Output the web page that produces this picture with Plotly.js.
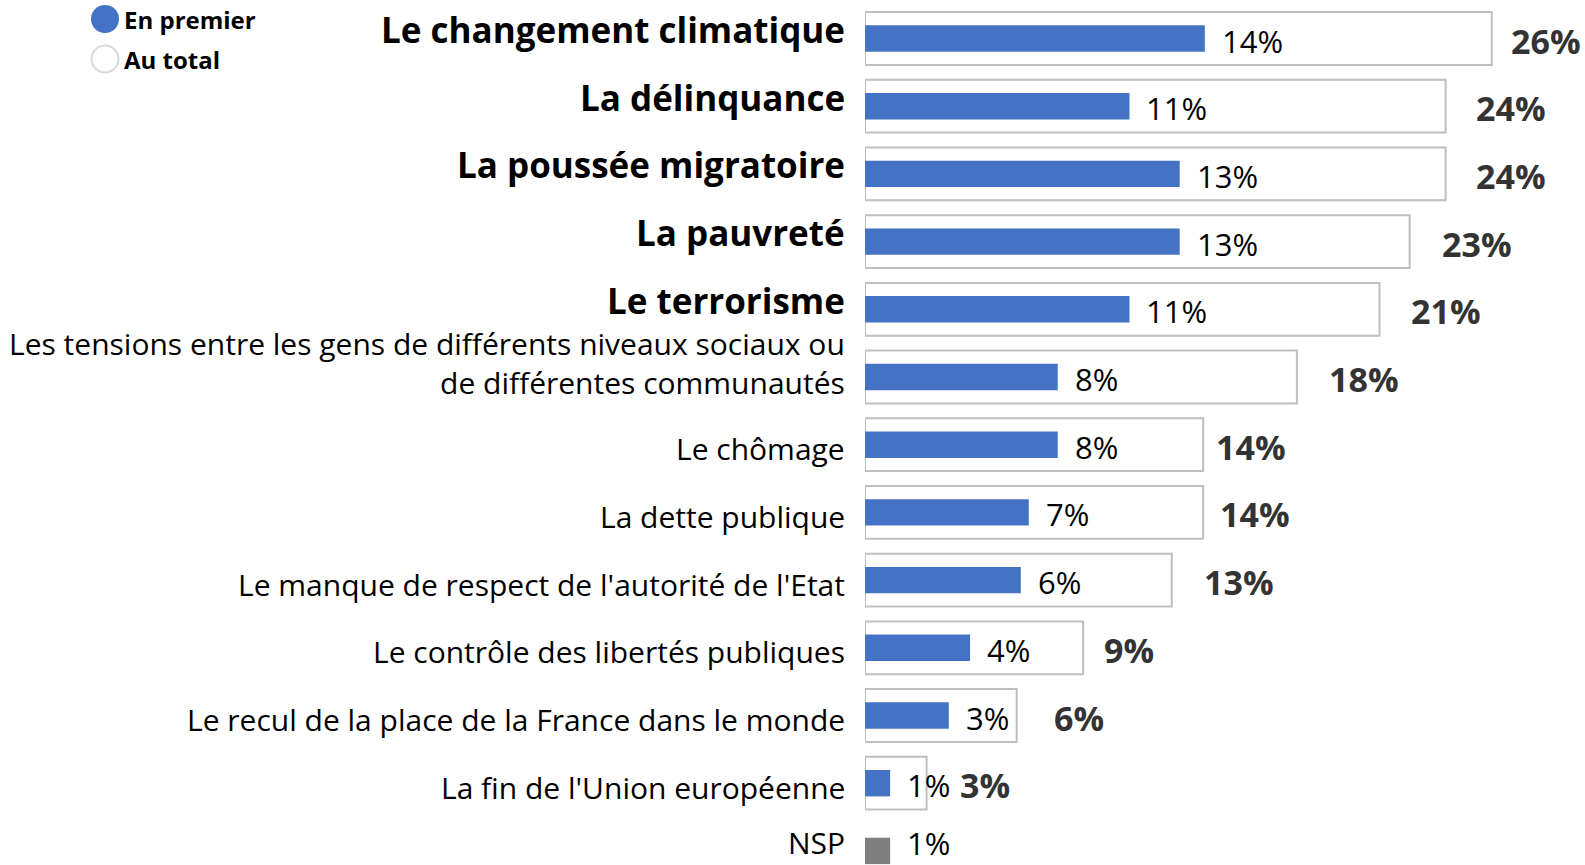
<!DOCTYPE html>
<html>
<head>
<meta charset="utf-8">
<script src="https://cdn.plot.ly/plotly-3.0.1.min.js"></script>
<style>
html,body{margin:0;padding:0;background:#fff;}
#chart{width:1585px;height:865px;}
</style>
</head>
<body>
<div id="chart"></div>
<script>
// ---- data ----
const categories = [
  "Le changement climatique",
  "La délinquance",
  "La poussée migratoire",
  "La pauvreté",
  "Le terrorisme",
  "Les tensions entre les gens de différents niveaux sociaux ou<br>de différentes communautés",
  "Le chômage",
  "La dette publique",
  "Le manque de respect de l'autorité de l'Etat",
  "Le contrôle des libertés publiques",
  "Le recul de la place de la France dans le monde",
  "La fin de l'Union européenne",
  "NSP"
];
// bar lengths (labels show the rounded values)
const enPremier = [14.07, 10.95, 13.03, 13.03, 10.95, 7.98, 7.98, 6.78, 6.45, 4.35, 3.47, 1.04, 1.04];
const auTotal   = [25.95, 24.04, 24.04, 22.55, 21.3, 17.88, 14.0, 14.0, 12.7, 9.03, 6.28, 2.55, null];
const boldCategories = [true, true, true, true, true, false, false, false, false, false, false, false, false];
const seriesNames = ["En premier", "Au total"];

// ---- styling ----
const BLUE = "#4472C4";
const GRAY = "#7F7F7F";
const BORDER = "#BFBFBF";
const FONT = "Open Sans, Noto Sans, sans-serif";
// pixel gap between the end of the white bar and its label
const totalLabelGap = [17, 28, 28, 30, 30, 30, 11, 15, 30, 19, 35, 31];

const blueColors = categories.map(c => c === "NSP" ? GRAY : BLUE);

const traces = [
  {
    type: "bar", orientation: "h",
    y: categories, x: auTotal,
    width: 0.78,
    marker: {color: "#FFFFFF", line: {color: BORDER, width: 2}},
    name: seriesNames[1], showlegend: false, hoverinfo: "skip"
  },
  {
    type: "bar", orientation: "h",
    y: categories, x: enPremier,
    width: 0.39,
    marker: {color: blueColors, line: {width: 0}},
    name: seriesNames[0], showlegend: false, hoverinfo: "skip"
  }
];

const annotations = [];
categories.forEach((c, i) => {
  const bold = boldCategories[i];
  const multi = c.indexOf("<br>") >= 0;
  const last = c === "NSP";
  annotations.push({
    xref: "paper", yref: "y", x: 0, y: c,
    xanchor: "right", yanchor: "middle",
    xshift: -18, yshift: bold ? 9 : (multi ? 14 : (last ? 8 : -4)),
    text: bold ? "<b>" + c + "</b>" : c,
    align: "right",
    showarrow: false,
    font: {family: FONT, size: bold ? 35 : 30, color: "#000000"}
  });
  annotations.push({
    xref: "x", yref: "y", x: enPremier[i], y: c,
    xanchor: "left", yanchor: "middle", xshift: 15, yshift: last ? 8 : -2,
    text: Math.round(enPremier[i]) + "%", showarrow: false,
    font: {family: FONT, size: 31, color: "#000000"}
  });
  if (auTotal[i] !== null) {
    annotations.push({
      xref: "x", yref: "y", x: auTotal[i], y: c,
      xanchor: "left", yanchor: "middle", xshift: totalLabelGap[i], yshift: -2,
      text: "<b>" + Math.round(auTotal[i]) + "%</b>", showarrow: false,
      font: {family: FONT, size: 34, color: "#333333"}
    });
  }
});

// legend (custom)
const W = 720, H = 865, L = 865;
const px = v => (v - L) / W;
const py = v => 1 - v / H;
annotations.push({
  xref: "paper", yref: "paper", x: px(122), y: py(20), xanchor: "left", yanchor: "middle",
  text: "<b>" + seriesNames[0] + "</b>", showarrow: false,
  font: {family: FONT, size: 24, color: "#000000"}
});
annotations.push({
  xref: "paper", yref: "paper", x: px(122), y: py(59), xanchor: "left", yanchor: "middle",
  text: "<b>" + seriesNames[1] + "</b>", showarrow: false,
  font: {family: FONT, size: 24, color: "#000000"}
});
const shapes = [
  {type: "circle", xref: "paper", yref: "paper", xsizemode: "pixel", ysizemode: "pixel",
   xanchor: px(105), yanchor: py(19), x0: -14, x1: 14, y0: -14, y1: 14,
   fillcolor: BLUE, line: {color: BLUE, width: 0}},
  {type: "circle", xref: "paper", yref: "paper", xsizemode: "pixel", ysizemode: "pixel",
   xanchor: px(105), yanchor: py(59), x0: -13.5, x1: 13.5, y0: -13.5, y1: 13.5,
   fillcolor: "#FFFFFF", line: {color: "#D9D9D9", width: 2}}
];

const layout = {
  width: 1585, height: 865,
  margin: {l: L, r: 0, t: 0, b: 0, pad: 0},
  paper_bgcolor: "#FFFFFF", plot_bgcolor: "#FFFFFF",
  barmode: "overlay",
  showlegend: false,
  xaxis: {range: [0, 29.81], visible: false, fixedrange: true},
  yaxis: {type: "category", categoryarray: categories, range: [12.208, -0.569],
          autorange: false, visible: false, fixedrange: true},
  annotations: annotations,
  shapes: shapes,
  font: {family: FONT}
};

Plotly.newPlot("chart", traces, layout, {displayModeBar: false, staticPlot: true});
</script>
</body>
</html>
